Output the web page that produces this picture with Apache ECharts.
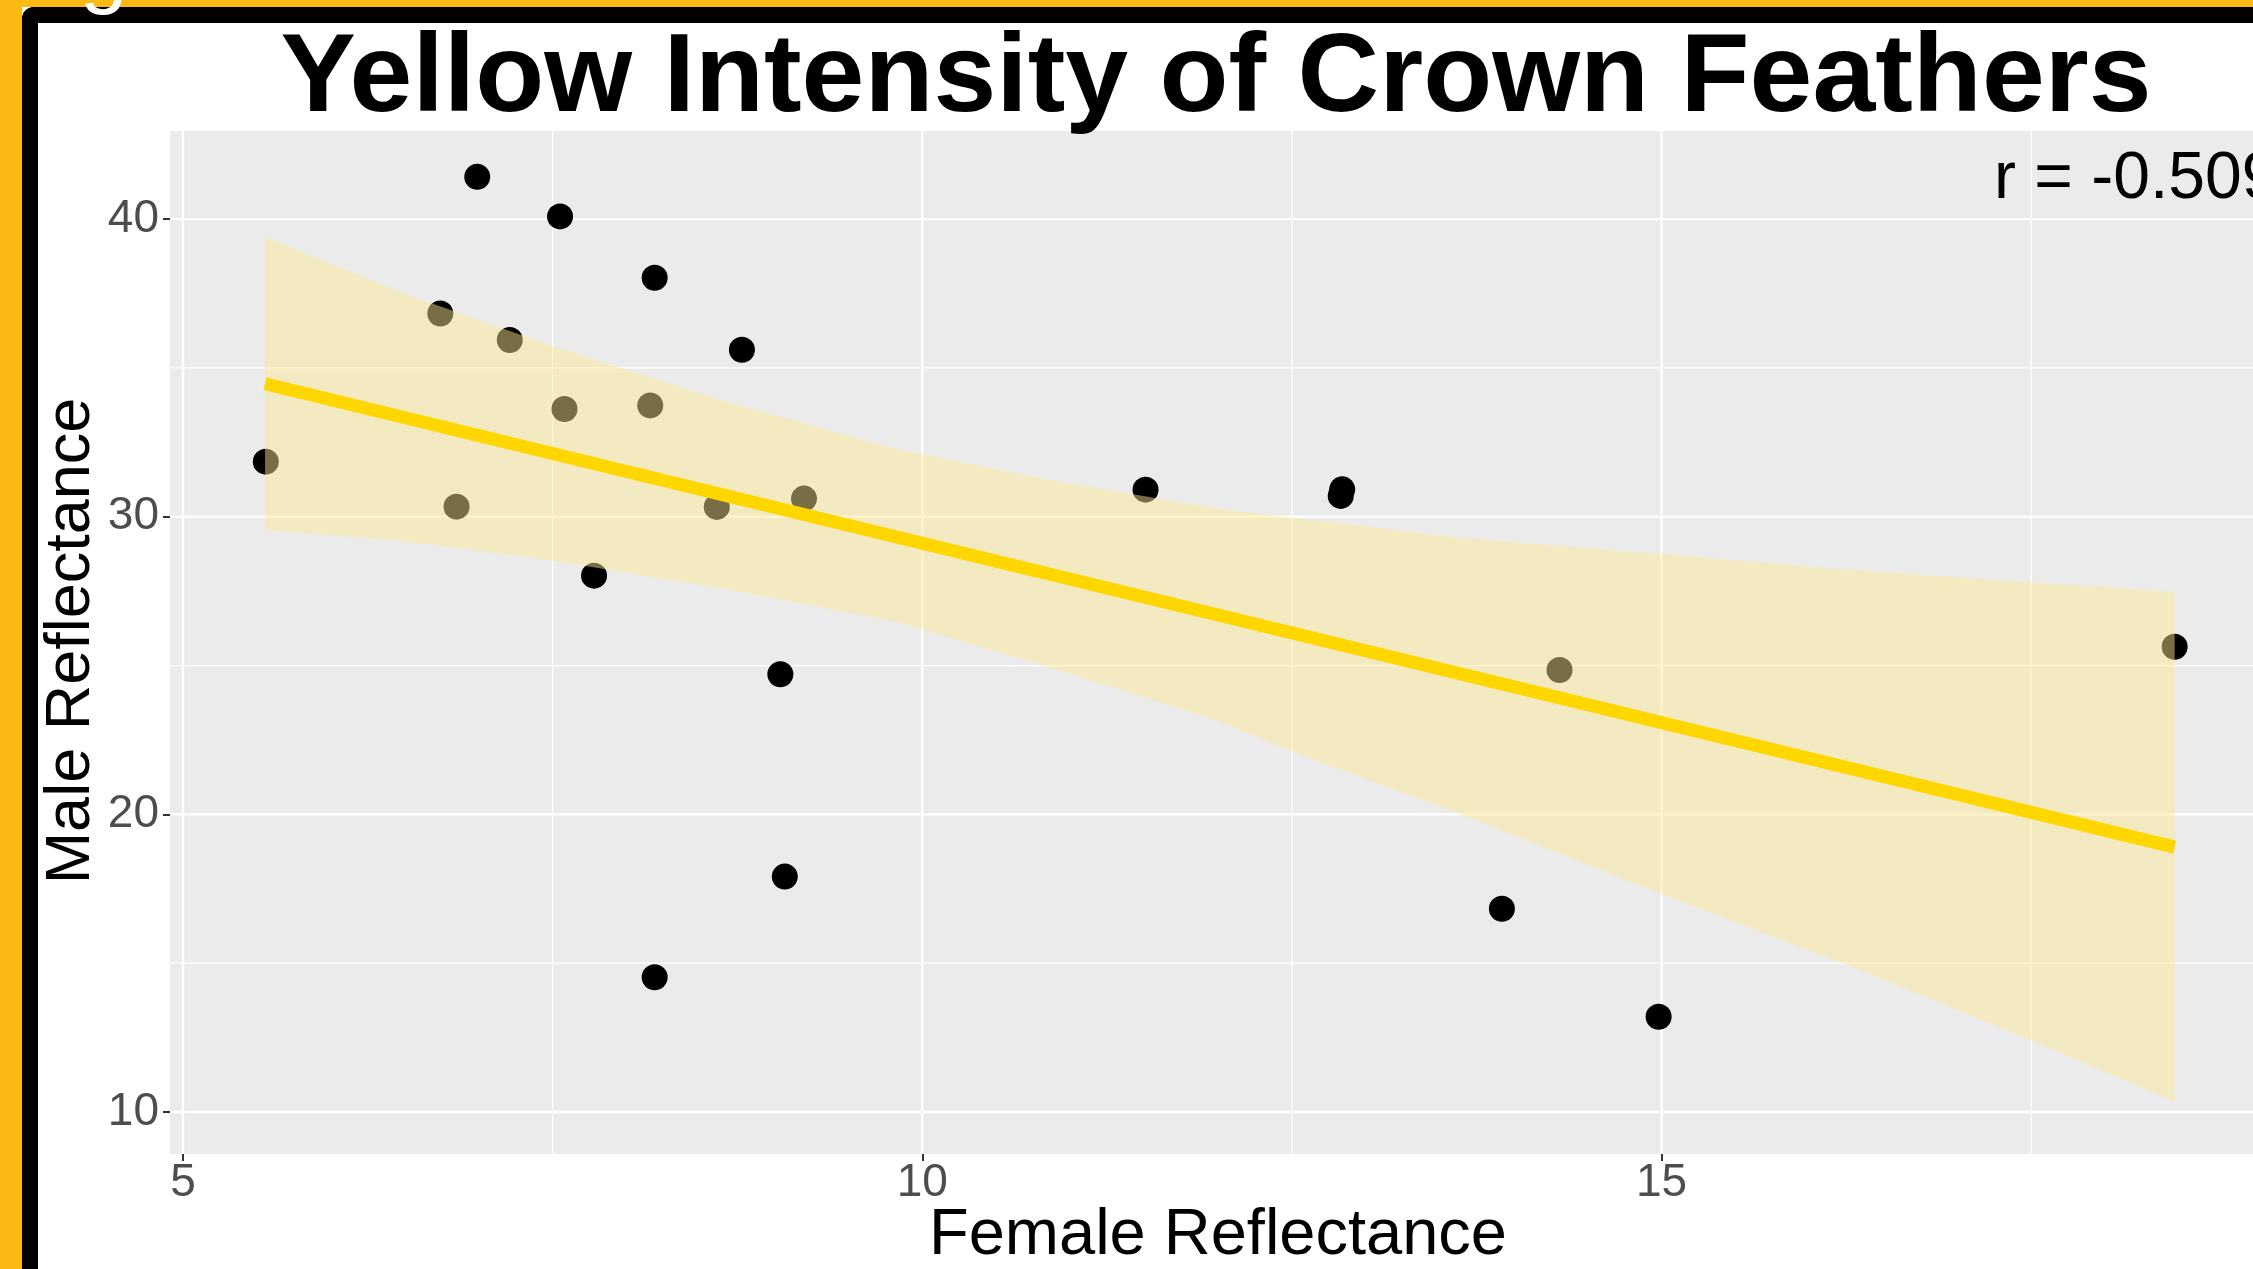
<!DOCTYPE html>
<html><head><meta charset="utf-8">
<style>html,body{margin:0;padding:0;background:#fff}#c{width:2253px;height:1269px}</style>
<script src="https://cdn.jsdelivr.net/npm/echarts@6/dist/echarts.min.js"></script>
</head><body><div id="c"></div>
<script>
// ---- data ----
const femaleX = [5.56, 6.99, 7.55, 8.19, 6.74, 7.21, 7.58, 8.16, 8.78, 6.85, 8.61, 9.20, 7.78, 9.04, 9.07, 8.19, 11.51, 12.84, 12.83, 13.92, 14.31, 14.98, 18.47];
const maleY   = [31.85, 41.42, 40.09, 38.03, 36.83, 35.94, 33.62, 33.74, 35.61, 30.34, 30.33, 30.61, 28.02, 24.71, 17.91, 14.53, 30.91, 30.92, 30.70, 16.83, 24.85, 13.20, 25.63];
const fitX = [5.555, 18.47];
const fitY = [34.47, 18.90];
const ribbonX     = [5.555, 6.5, 7.5, 8.67, 9.83, 10.87, 12.0, 12.51, 13.62, 15.01, 16.3, 17.51, 18.47];
const ribbonUpper = [39.40, 37.49, 35.73, 33.87, 32.27, 31.23, 30.27, 29.97, 29.30, 28.74, 28.20, 27.80, 27.47];
const ribbonLower = [29.56, 29.17, 28.53, 27.57, 26.46, 24.93, 23.15, 22.10, 20.05, 17.30, 14.86, 12.39, 10.35];
const xTicks = [5, 10, 15];
const yTicks = [10, 20, 30, 40];
const xMinor = [7.5, 12.5, 17.5];
const yMinor = [15, 25, 35];
const titleText = 'Yellow Intensity of Crown Feathers';
const xTitle = 'Female Reflectance';
const yTitle = 'Male Reflectance';
const rText = 'r = -0.509';
const figText = 'Figure 1';

const X_MIN = 4.912, X_MAX = 19.0, Y_MIN = 8.59, Y_MAX = 42.96;

const chart = echarts.init(document.getElementById('c'), null, {renderer: 'canvas'});

function vGrid(values, w) {
  return {
    type: 'custom', z: 1, silent: true, clip: true,
    data: values.map(v => [v, Y_MIN]),
    renderItem(params, api) {
      const v = api.value(0);
      const a = api.coord([v, Y_MIN]), b = api.coord([v, Y_MAX]);
      return {type: 'line', shape: {x1: a[0], y1: a[1], x2: b[0], y2: b[1]}, style: {stroke: '#ffffff', lineWidth: w}};
    }
  };
}
function hGrid(values, w) {
  return {
    type: 'custom', z: 1, silent: true, clip: true,
    data: values.map(v => [X_MIN, v]),
    renderItem(params, api) {
      const v = api.value(1);
      const a = api.coord([X_MIN, v]), b = api.coord([X_MAX, v]);
      return {type: 'line', shape: {x1: a[0], y1: a[1], x2: b[0], y2: b[1]}, style: {stroke: '#ffffff', lineWidth: w}};
    }
  };
}

const labelFont = {fontSize: 46, color: '#4D4D4D', fontFamily: 'Liberation Sans, Arial, sans-serif'};

const option = {
  animation: false,
  backgroundColor: '#ffffff',
  grid: {left: 170, right: 0, top: 131, bottom: 115, show: true, backgroundColor: '#EBEBEB', borderWidth: 0, containLabel: false},
  xAxis: {
    type: 'value', min: X_MIN, max: X_MAX,
    axisLine: {show: false}, splitLine: {show: false},
    axisTick: {show: true, customValues: xTicks, length: 7, lineStyle: {color: '#333333', width: 2}},
    axisLabel: Object.assign({customValues: xTicks, margin: 6}, labelFont)
  },
  yAxis: {
    type: 'value', min: Y_MIN, max: Y_MAX,
    axisLine: {show: false}, splitLine: {show: false},
    axisTick: {show: true, customValues: yTicks, length: 7, lineStyle: {color: '#333333', width: 2}},
    axisLabel: Object.assign({customValues: yTicks, margin: 11}, labelFont)
  },
  series: [
    vGrid(xMinor, 1.2), hGrid(yMinor, 1.2),
    vGrid(xTicks, 2.4), hGrid(yTicks, 2.4),
    {
      type: 'scatter', z: 2, silent: true,
      data: femaleX.map((x, i) => [x, maleY[i]]),
      symbol: 'circle', symbolSize: 26,
      itemStyle: {color: '#000000', opacity: 1}
    },
    {
      type: 'custom', z: 3, silent: true,
      data: [[ribbonX[0], ribbonLower[0]]],
      renderItem(params, api) {
        const pts = [];
        for (let i = 0; i < ribbonX.length; i++) pts.push(api.coord([ribbonX[i], ribbonUpper[i]]));
        for (let i = ribbonX.length - 1; i >= 0; i--) pts.push(api.coord([ribbonX[i], ribbonLower[i]]));
        return {type: 'polygon', shape: {points: pts}, style: {fill: 'rgba(253,234,146,0.47)'}};
      }
    },
    {
      type: 'line', z: 4, silent: true,
      data: fitX.map((x, i) => [x, fitY[i]]),
      symbol: 'none', showSymbol: false,
      lineStyle: {color: '#FFD700', width: 13, cap: 'butt'}
    }
  ],
  graphic: [
    {type: 'rect', z: 5, silent: true, shape: {x: 0, y: 0, width: 2253, height: 7}, style: {fill: '#FDB913'}},
    {type: 'rect', z: 5, silent: true, shape: {x: 0, y: 0, width: 22, height: 1269}, style: {fill: '#FDB913'}},
    {type: 'rect', z: 6, silent: true, shape: {x: 22, y: 7, width: 2231, height: 16, r: [12, 0, 0, 0]}, style: {fill: '#000000'}},
    {type: 'rect', z: 6, silent: true, shape: {x: 22, y: 7, width: 16, height: 1262, r: [12, 0, 0, 0]}, style: {fill: '#000000'}},
    {type: 'text', z: 8, silent: true, x: 8, y: -27,
      style: {text: figText, fill: '#ffffff', fontSize: 86, fontFamily: 'Liberation Sans, Arial, sans-serif',
        align: 'left', textAlign: 'left', verticalAlign: 'middle', textVerticalAlign: 'middle'}},
    {type: 'text', z: 10, silent: true, x: 1216, y: 80, scaleX: 1.018,
      style: {text: titleText, fill: '#000000', fontSize: 111, fontWeight: 'bold', fontFamily: 'Liberation Sans, Arial, sans-serif',
        align: 'center', textAlign: 'center', verticalAlign: 'middle', textVerticalAlign: 'middle'}},
    {type: 'text', z: 10, silent: true, x: 1218, y: 1236,
      style: {text: xTitle, fill: '#000000', fontSize: 65, fontFamily: 'Liberation Sans, Arial, sans-serif',
        align: 'center', textAlign: 'center', verticalAlign: 'middle', textVerticalAlign: 'middle'}},
    {type: 'text', z: 10, silent: true, x: 72, y: 641, rotation: Math.PI / 2,
      style: {text: yTitle, fill: '#000000', fontSize: 63, fontFamily: 'Liberation Sans, Arial, sans-serif',
        align: 'center', textAlign: 'center', verticalAlign: 'middle', textVerticalAlign: 'middle'}},
    {type: 'text', z: 10, silent: true, x: 1994, y: 180,
      style: {text: rText, fill: '#000000', fontSize: 66, fontFamily: 'Liberation Sans, Arial, sans-serif',
        align: 'left', textAlign: 'left', verticalAlign: 'middle', textVerticalAlign: 'middle'}}
  ]
};
chart.setOption(option);
</script>
</body></html>
